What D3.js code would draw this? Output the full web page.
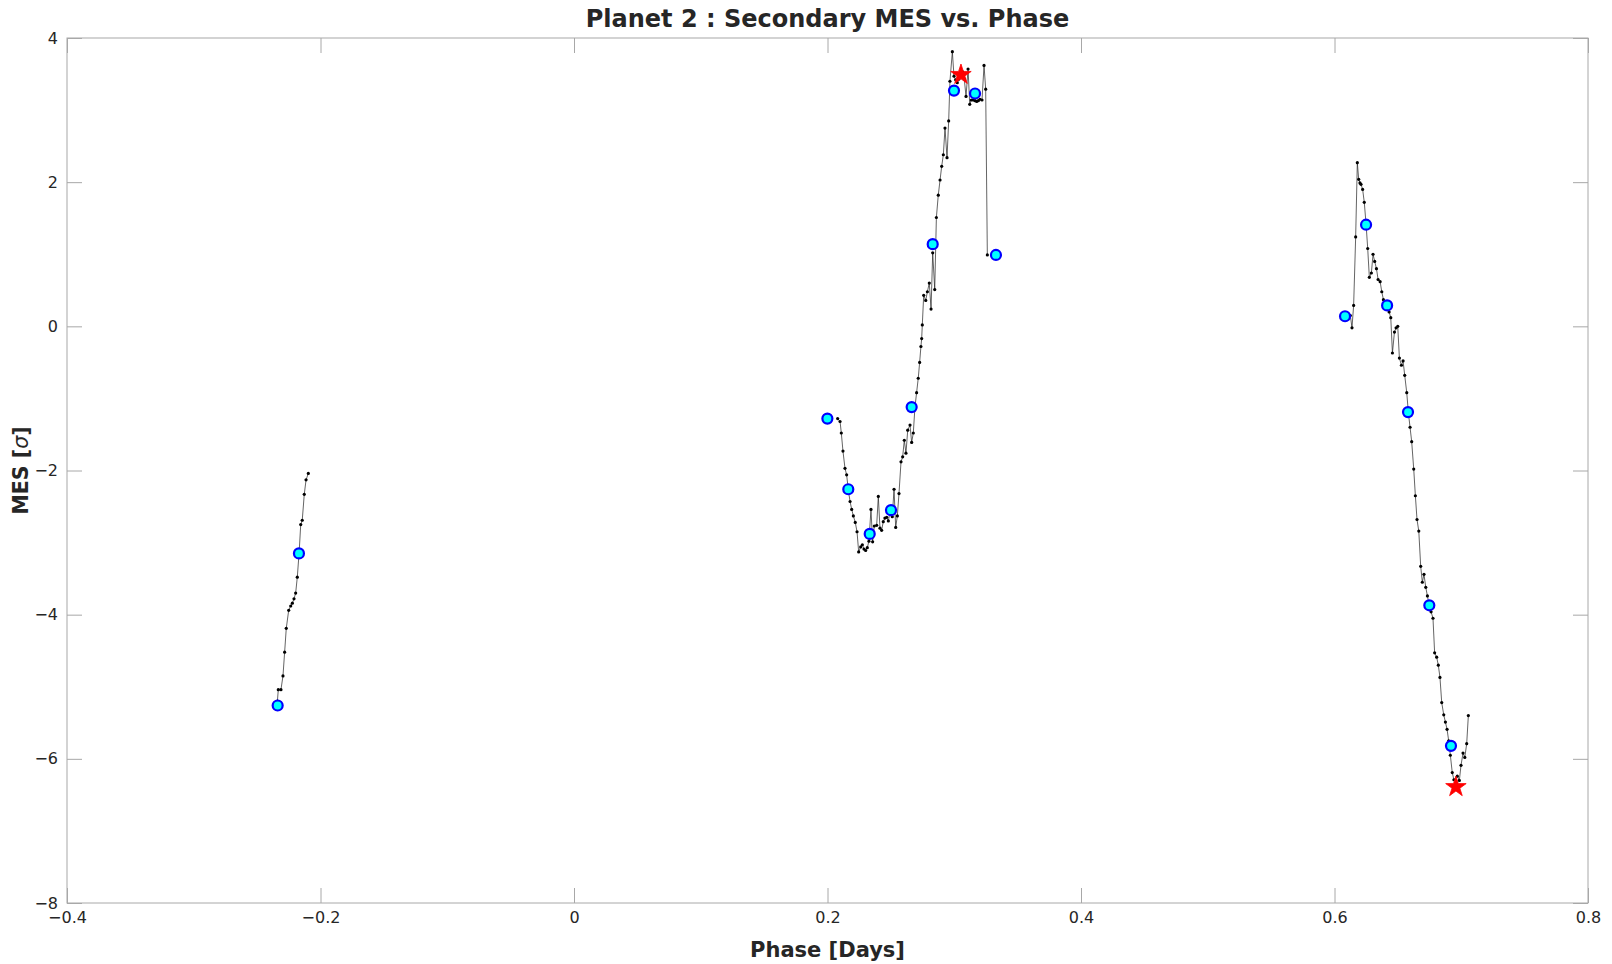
<!DOCTYPE html>
<html lang="en">
<head>
    <meta charset="UTF-8">
    <title>Secondary MES vs. Phase</title>
    <script src="https://d3js.org/d3.v7.min.js"></script>
    <style>
        body{ margin: 0; background: #fff; }
        .tick text{ font-family: "DejaVu Sans", sans-serif; font-size: 16px; fill: #262626; }
        .tick line{ stroke: #a8a8a8; }
        .lbl{ font-family: "DejaVu Sans", sans-serif; fill: #262626; font-weight: bold; }
    </style>
</head>
<body>
<svg id="main" width="1612" height="964"></svg>

<script>
    // black trace, one array per contiguous stretch [phase, MES]
    let seg1 = [[-0.2340,-5.20],[-0.2333,-5.04],[-0.2312,-5.04],[-0.2296,-4.85],[-0.2283,-4.52],[-0.2270,-4.19],
        [-0.2251,-3.94],[-0.2235,-3.88],[-0.2222,-3.84],[-0.2209,-3.78],[-0.2196,-3.70],[-0.2183,-3.48],
        [-0.2168,-3.12],[-0.2156,-2.75],[-0.2144,-2.69],[-0.2128,-2.33],[-0.2114,-2.13],[-0.2096,-2.04]]

    let seg2 = [[0.2080,-1.28],[0.2099,-1.32],[0.2109,-1.48],[0.2122,-1.73],[0.2138,-1.97],[0.2151,-2.06],
        [0.2165,-2.28],[0.2178,-2.43],[0.2191,-2.54],[0.2204,-2.63],[0.2219,-2.72],[0.2233,-2.85],
        [0.2246,-3.13],[0.2262,-3.06],[0.2275,-3.03],[0.2288,-3.09],[0.2301,-3.11],[0.2314,-3.07],
        [0.2327,-2.98],[0.2343,-2.54],[0.2356,-2.99],[0.2369,-2.77],[0.2388,-2.76],[0.2401,-2.36],
        [0.2414,-2.80],[0.2427,-2.83],[0.2440,-2.71],[0.2453,-2.66],[0.2467,-2.65],[0.2480,-2.70],
        [0.2493,-2.58],[0.2511,-2.64],[0.2525,-2.26],[0.2538,-2.79],[0.2551,-2.63],[0.2564,-2.32],
        [0.2580,-1.88],[0.2593,-1.81],[0.2606,-1.58],[0.2619,-1.76],[0.2633,-1.44],[0.2651,-1.37],
        [0.2664,-1.61],[0.2677,-1.48],[0.2690,-1.12],[0.2703,-0.92],[0.2716,-0.72],[0.2727,-0.50],
        [0.2737,-0.28],[0.2743,-0.17],[0.2748,0.02],[0.2759,0.43],[0.2775,0.36],[0.2788,0.48],
        [0.2803,0.60],[0.2817,0.24],[0.2830,1.02],[0.2846,0.51],[0.2859,1.51],[0.2874,1.82],
        [0.2888,2.03],[0.2901,2.22],[0.2914,2.38],[0.2927,2.75],[0.2943,2.34],[0.2956,2.85],
        [0.2966,3.40],[0.2985,3.81],[0.2998,3.47],[0.3011,3.42],[0.3024,3.38],[0.3037,3.43],
        [0.3053,3.49],[0.3066,3.53],[0.3079,3.43],[0.3093,3.19],[0.3109,3.57],[0.3122,3.08],
        [0.3135,3.14],[0.3150,3.14],[0.3164,3.13],[0.3177,3.12],[0.3190,3.13],[0.3203,3.15],
        [0.3219,3.14],[0.3235,3.62],[0.3248,3.29],[0.3261,0.99]]

    let seg3 = [[0.6125,0.15],[0.6138,-0.02],[0.6151,0.29],[0.6167,1.24],[0.6180,2.27],[0.6191,2.04],
        [0.6201,1.99],[0.6209,1.97],[0.6222,1.90],[0.6235,1.72],[0.6249,1.42],[0.6262,1.08],
        [0.6275,0.68],[0.6291,0.74],[0.6304,1.00],[0.6317,0.90],[0.6331,0.80],[0.6344,0.65],
        [0.6360,0.62],[0.6373,0.48],[0.6386,0.37],[0.6402,0.31],[0.6415,0.27],[0.6431,0.20],
        [0.6444,0.12],[0.6457,-0.37],[0.6473,-0.08],[0.6486,-0.02],[0.6499,0.00],[0.6512,-0.44],
        [0.6528,-0.54],[0.6541,-0.48],[0.6554,-0.68],[0.6570,-0.92],[0.6583,-1.20],[0.6596,-1.40],
        [0.6609,-1.60],[0.6625,-1.98],[0.6638,-2.35],[0.6651,-2.68],[0.6665,-2.84],[0.6680,-3.33],
        [0.6693,-3.55],[0.6706,-3.44],[0.6720,-3.62],[0.6733,-3.74],[0.6748,-3.88],[0.6762,-3.96],
        [0.6777,-4.05],[0.6790,-4.53],[0.6806,-4.59],[0.6819,-4.70],[0.6832,-4.87],[0.6846,-5.22],
        [0.6862,-5.39],[0.6875,-5.49],[0.6888,-5.59],[0.6901,-5.75],[0.6914,-5.95],[0.6929,-6.19],
        [0.6942,-6.29],[0.6969,-6.24],[0.6985,-6.30],[0.6998,-6.09],[0.7014,-5.92],[0.7028,-5.98],
        [0.7043,-5.79],[0.7056,-5.40]]

    // hourly samples (cyan circles)
    let hourly = [[-0.2338,-5.26],[-0.2170,-3.15],
        [0.1999,-1.28],[0.2164,-2.26],[0.2333,-2.88],[0.2501,-2.55],[0.2664,-1.12],[0.2830,1.14],
        [0.2998,3.27],[0.3164,3.23],[0.3329,0.99],
        [0.6083,0.14],[0.6249,1.41],[0.6415,0.29],[0.6580,-1.19],[0.6748,-3.87],[0.6919,-5.82]]

    // max / min of the secondary search
    let extrema = [[0.3053,3.49],[0.6958,-6.39]]

    let xTicks = [-0.4, -0.2, 0, 0.2, 0.4, 0.6, 0.8]
    let yTicks = [-8, -6, -4, -2, 0, 2, 4]

    let titleText = "Planet 2 : Secondary MES vs. Phase"
    let xLabel = "Phase [Days]"

    // plot box
    let boxL = 67, boxR = 1588, boxT = 38, boxB = 903

    let svg = d3.select("#main")
    let x = d3.scaleLinear().domain([-0.4, 0.8]).range([boxL, boxR])
    let y = d3.scaleLinear().domain([-8, 4]).range([boxB, boxT])

    // axes, ticks pointing inward like matlab
    let fmt = d3.format("")
    svg.append("g").attr("transform", `translate(0,${boxB})`)
        .call(d3.axisBottom(x).tickValues(xTicks).tickFormat(fmt).tickSizeInner(-15).tickSizeOuter(0).tickPadding(9))
    svg.append("g").attr("transform", `translate(0,${boxT})`)
        .call(d3.axisTop(x).tickValues(xTicks).tickFormat("").tickSizeInner(-15).tickSizeOuter(0))
    svg.append("g").attr("transform", `translate(${boxL},0)`)
        .call(d3.axisLeft(y).tickValues(yTicks).tickFormat(fmt).tickSizeInner(-15).tickSizeOuter(0).tickPadding(9))
    svg.append("g").attr("transform", `translate(${boxR},0)`)
        .call(d3.axisRight(y).tickValues(yTicks).tickFormat("").tickSizeInner(-15).tickSizeOuter(0))
    svg.selectAll(".domain").remove()

    svg.append("rect")
        .attr("x", boxL).attr("y", boxT)
        .attr("width", boxR - boxL).attr("height", boxB - boxT)
        .attr("fill", "none").attr("stroke", "#a8a8a8").attr("stroke-width", 1)

    // trace
    let line = d3.line().x(d => x(d[0])).y(d => y(d[1]))
    let segs = [seg1, seg2, seg3]
    let plot = svg.append("g")
    plot.selectAll("path.trace")
        .data(segs)
        .join("path")
        .attr("class", "trace")
        .attr("d", line)
        .attr("fill", "none")
        .attr("stroke", "#222")
        .attr("stroke-width", 0.7)

    plot.selectAll("circle.dot")
        .data(segs.flat())
        .join("circle")
        .attr("class", "dot")
        .attr("cx", d => x(d[0]))
        .attr("cy", d => y(d[1]))
        .attr("r", 1.6)
        .attr("fill", "#000")

    plot.selectAll("circle.hour")
        .data(hourly)
        .join("circle")
        .attr("class", "hour")
        .attr("cx", d => x(d[0]))
        .attr("cy", d => y(d[1]))
        .attr("r", 5)
        .attr("fill", "#00ffff")
        .attr("stroke", "#0000ff")
        .attr("stroke-width", 2.2)

    plot.selectAll("path.star")
        .data(extrema)
        .join("path")
        .attr("class", "star")
        .attr("transform", d => `translate(${x(d[0])},${y(d[1])})`)
        .attr("d", d3.symbol().type(d3.symbolStar).size(130))
        .attr("fill", "#ff0000")
        .attr("stroke", "#ff0000")
        .attr("stroke-width", 0.8)

    // labels
    svg.append("text")
        .attr("class", "lbl")
        .attr("x", (boxL + boxR) / 2)
        .attr("y", 27)
        .attr("text-anchor", "middle")
        .style("font-size", "24px")
        .text(titleText)

    svg.append("text")
        .attr("class", "lbl")
        .attr("x", (boxL + boxR) / 2)
        .attr("y", 957)
        .attr("text-anchor", "middle")
        .style("font-size", "21px")
        .text(xLabel)

    let yl = svg.append("text")
        .attr("class", "lbl")
        .attr("transform", `translate(28,${(boxT + boxB) / 2}) rotate(-90)`)
        .attr("text-anchor", "middle")
        .style("font-size", "20.5px")
    yl.append("tspan").text("MES [")
    yl.append("tspan").style("font-weight", "normal").style("font-style", "italic").text("σ")
    yl.append("tspan").text("]")
</script>

</body>
</html>
